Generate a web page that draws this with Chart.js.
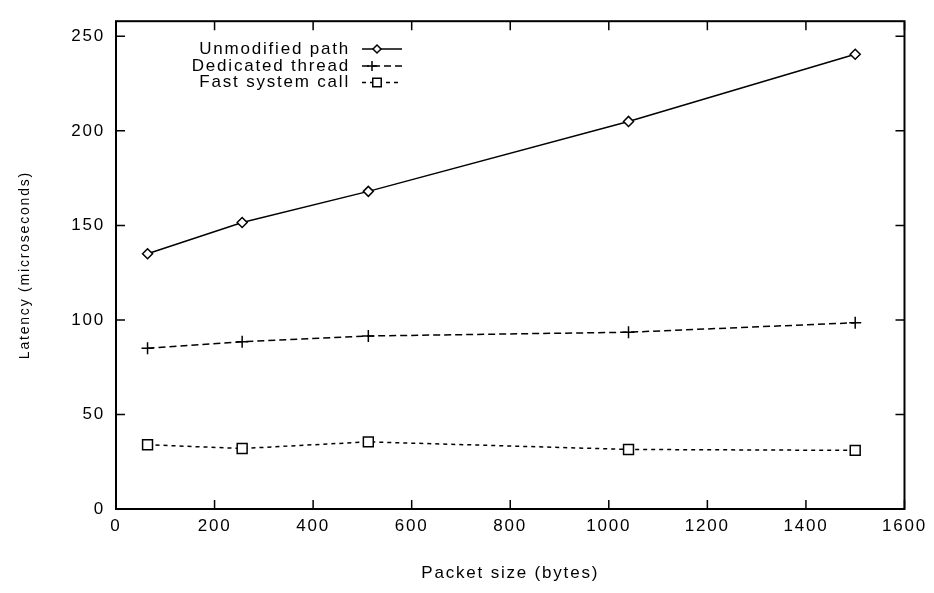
<!DOCTYPE html>
<html>
<head>
<meta charset="utf-8">
<script src="https://cdn.jsdelivr.net/npm/chart.js@4.4.1/dist/chart.umd.min.js"></script>
<style>
  body { margin: 0; background: #fff; }
  #wrap { width: 934px; height: 593px; position: relative; }
</style>
</head>
<body>
<div id="wrap"><canvas id="latencyChart"></canvas></div>
<script>
// tamaños de paquete (bytes)
const packetSizes = [64, 256, 512, 1040, 1500];
// latencias (microsegundos)
const unmodifiedPath = [135, 151.5, 168, 205, 240.5];
const dedicatedThread = [85, 88.5, 91.5, 93.5, 98.5];
const fastSystemCall = [34, 32, 35.5, 31.5, 31];
const seriesNames = ['Unmodified path', 'Dedicated thread', 'Fast system call'];
const xTicks = [0, 200, 400, 600, 800, 1000, 1200, 1400, 1600];
const yTicks = [0, 50, 100, 150, 200, 250];

const FONT = "'Liberation Sans', Arial, Helvetica, sans-serif";
const SPACING = '1.8px';

function puntos(valores) {
  return packetSizes.map((x, i) => ({ x: x, y: valores[i] }));
}

const estilos = [
  { pointStyle: 'rectRot', radius: 5, dash: [] },
  { pointStyle: 'cross', radius: 6, dash: [7, 4] },
  { pointStyle: 'rect', radius: 7, dash: [4, 4] }
];

// espaciado de letras para imitar la fuente ancha del original
const espaciado = {
  id: 'espaciado',
  beforeUpdate(chart) { chart.ctx.letterSpacing = SPACING; },
  beforeDraw(chart) { chart.ctx.letterSpacing = SPACING; }
};

// marco, ticks hacia dentro (estilo gnuplot) y leyenda
const marco = {
  id: 'marco',
  afterDraw(chart) {
    const ctx = chart.ctx;
    const a = chart.chartArea;
    const xs = chart.scales.x;
    const ys = chart.scales.y;
    ctx.save();
    ctx.strokeStyle = '#000';
    ctx.lineWidth = 2;
    ctx.strokeRect(a.left, a.top, a.right - a.left, a.bottom - a.top);
    ctx.lineWidth = 1.5;
    ctx.beginPath();
    xTicks.forEach(v => {
      const px = xs.getPixelForValue(v);
      ctx.moveTo(px, a.bottom); ctx.lineTo(px, a.bottom - 9);
      ctx.moveTo(px, a.top); ctx.lineTo(px, a.top + 9);
    });
    yTicks.forEach(v => {
      const py = ys.getPixelForValue(v);
      ctx.moveTo(a.left, py); ctx.lineTo(a.left + 9, py);
      ctx.moveTo(a.right, py); ctx.lineTo(a.right - 9, py);
    });
    ctx.stroke();

    // leyenda
    ctx.font = '17px ' + FONT;
    ctx.letterSpacing = SPACING;
    ctx.fillStyle = '#000';
    ctx.textAlign = 'right';
    ctx.textBaseline = 'middle';
    const filas = [49, 66, 82.5];
    seriesNames.forEach((nombre, i) => {
      const y = filas[i];
      ctx.fillText(nombre, 350, y);
      ctx.save();
      ctx.lineWidth = 1.5;
      ctx.setLineDash(estilos[i].dash);
      ctx.beginPath();
      ctx.moveTo(362, y);
      ctx.lineTo(402, y);
      ctx.stroke();
      ctx.restore();
      ctx.fillStyle = '#fff';
      ctx.lineWidth = 1.5;
      Chart.helpers.drawPoint(ctx, {
        pointStyle: estilos[i].pointStyle,
        radius: estilos[i].radius - 1,
        rotation: 0,
        borderWidth: 1.5
      }, i === 1 ? 372 : 377, y);
      ctx.fillStyle = '#000';
    });
    ctx.restore();
  }
};

const ctx = document.getElementById('latencyChart');
new Chart(ctx, {
  type: 'line',
  data: {
    datasets: [unmodifiedPath, dedicatedThread, fastSystemCall].map((valores, i) => ({
      label: seriesNames[i],
      data: puntos(valores),
      borderColor: '#000',
      borderWidth: 1.5,
      borderDash: estilos[i].dash,
      pointStyle: estilos[i].pointStyle,
      pointRadius: estilos[i].radius,
      pointBorderWidth: 1.5,
      pointBorderColor: '#000',
      pointBackgroundColor: '#fff',
      tension: 0,
      fill: false
    }))
  },
  options: {
    responsive: true,
    maintainAspectRatio: false,
    animation: false,
    layout: { padding: { top: 10, right: 27, left: 0, bottom: 0 } },
    plugins: {
      legend: { display: false },
      tooltip: { enabled: false }
    },
    scales: {
      x: {
        type: 'linear',
        min: 0,
        max: 1600,
        afterBuildTicks: s => { s.ticks = xTicks.map(v => ({ value: v })); },
        afterFit: s => { s.height = 84; },
        grid: { display: false, drawTicks: false },
        border: { display: false },
        ticks: {
          color: '#000',
          padding: 7,
          maxRotation: 0,
          font: { family: FONT, size: 17 },
          callback: v => String(v)
        },
        title: {
          display: true,
          text: 'Packet size (bytes)',
          color: '#000',
          font: { family: FONT, size: 17 },
          padding: { top: 0, bottom: 9 }
        }
      },
      y: {
        min: 0,
        max: 258,
        afterBuildTicks: s => { s.ticks = yTicks.map(v => ({ value: v })); },
        afterFit: s => { s.width = 116; },
        grid: { display: false, drawTicks: false },
        border: { display: false },
        ticks: { color: '#000', padding: 11, font: { family: FONT, size: 17 }, callback: v => String(v) },
        title: {
          display: true,
          text: 'Latency (microseconds)',
          color: '#000',
          font: { family: FONT, size: 14 },
          padding: { top: 17, bottom: 0 }
        }
      }
    }
  },
  plugins: [espaciado, marco]
});
</script>
</body>
</html>
